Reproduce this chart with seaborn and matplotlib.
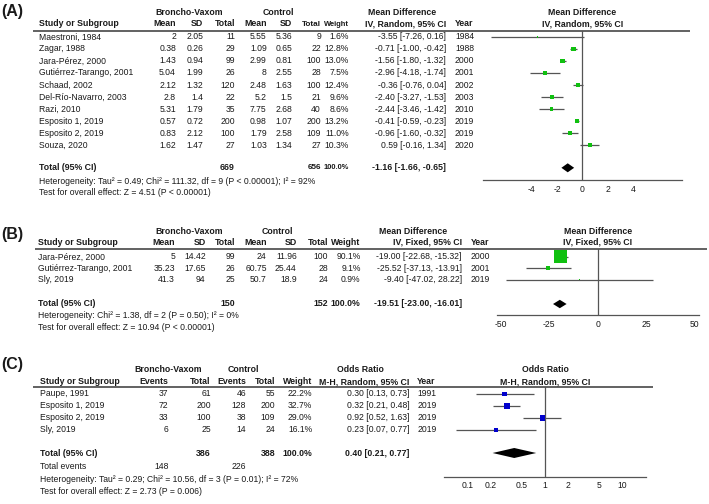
"""
plot.py

RevMan-style forest plots, Broncho-Vaxom vs control.
  (A) mean difference, IV random effects
  (B) mean difference, IV fixed effect
  (C) odds ratio, M-H random effects
Writes out.png (709x504 px).
"""

import matplotlib.pyplot as plt
import numpy as np
import pandas as pd
import seaborn as sns
from matplotlib.ticker import NullLocator
from matplotlib.transforms import blended_transform_factory

W, H = 709, 504
FS = 6.2      # regular table text
FSB = 6.3     # bold table text
INK = "#1a1a1a"
GREY = "#555555"

# ---------------- (A) mean difference, random effects ----------------
studies_a = ["Maestroni, 1984", "Zagar, 1988", "Jara-Pérez, 2000", "Gutiérrez-Tarango, 2001",
             "Schaad, 2002", "Del-Río-Navarro, 2003", "Razi, 2010", "Esposito 1, 2019",
             "Esposito 2, 2019", "Souza, 2020"]
bv_mean_a = [2, 0.38, 1.43, 5.04, 2.12, 2.8, 5.31, 0.57, 0.83, 1.62]
bv_sd_a = [2.05, 0.26, 0.94, 1.99, 1.32, 1.4, 1.79, 0.72, 2.12, 1.47]
bv_n_a = [11, 29, 99, 26, 120, 22, 35, 200, 100, 27]
ctl_mean_a = [5.55, 1.09, 2.99, 8, 2.48, 5.2, 7.75, 0.98, 1.79, 1.03]
ctl_sd_a = [5.36, 0.65, 0.81, 2.55, 1.63, 1.5, 2.68, 1.07, 2.58, 1.34]
ctl_n_a = [9, 22, 100, 28, 100, 21, 40, 200, 109, 27]
weight_a = [1.6, 12.8, 13.0, 7.5, 12.4, 9.6, 8.6, 13.2, 11.0, 10.3]
md_a = [-3.55, -0.71, -1.56, -2.96, -0.36, -2.40, -2.44, -0.41, -0.96, 0.59]
lo_a = [-7.26, -1.00, -1.80, -4.18, -0.76, -3.27, -3.46, -0.59, -1.60, -0.16]
hi_a = [0.16, -0.42, -1.32, -1.74, 0.04, -1.53, -1.42, -0.23, -0.32, 1.34]
year_a = [1984, 1988, 2000, 2001, 2002, 2003, 2010, 2019, 2019, 2020]
n_total_a = [669, 656]
pooled_a = [-1.16, -1.66, -0.65]
notes_a = ["Heterogeneity: Tau² = 0.49; Chi² = 111.32, df = 9 (P < 0.00001); I² = 92%",
           "Test for overall effect: Z = 4.51 (P < 0.00001)"]
ticks_a = [-4, -2, 0, 2, 4]

# ---------------- (B) mean difference, fixed effect ----------------
studies_b = ["Jara-Pérez, 2000", "Gutiérrez-Tarango, 2001", "Sly, 2019"]
bv_mean_b = [5, 35.23, 41.3]
bv_sd_b = [14.42, 17.65, 94]
bv_n_b = [99, 26, 25]
ctl_mean_b = [24, 60.75, 50.7]
ctl_sd_b = [11.96, 25.44, 18.9]
ctl_n_b = [100, 28, 24]
weight_b = [90.1, 9.1, 0.9]
md_b = [-19.00, -25.52, -9.40]
lo_b = [-22.68, -37.13, -47.02]
hi_b = [-15.32, -13.91, 28.22]
year_b = [2000, 2001, 2019]
n_total_b = [150, 152]
pooled_b = [-19.51, -23.00, -16.01]
notes_b = ["Heterogeneity: Chi² = 1.38, df = 2 (P = 0.50); I² = 0%",
           "Test for overall effect: Z = 10.94 (P < 0.00001)"]
ticks_b = [-50, -25, 0, 25, 50]

# ---------------- (C) odds ratio, random effects ----------------
studies_c = ["Paupe, 1991", "Esposito 1, 2019", "Esposito 2, 2019", "Sly, 2019"]
bv_events_c = [37, 72, 33, 6]
bv_n_c = [61, 200, 100, 25]
ctl_events_c = [46, 128, 38, 14]
ctl_n_c = [55, 200, 109, 24]
weight_c = [22.2, 32.7, 29.0, 16.1]
or_c = [0.30, 0.32, 0.92, 0.23]
lo_c = [0.13, 0.21, 0.52, 0.07]
hi_c = [0.73, 0.48, 1.63, 0.77]
year_c = [1991, 2019, 2019, 2019]
n_total_c = [386, 388]
events_total_c = [148, 226]
pooled_c = [0.40, 0.21, 0.77]
notes_c = ["Heterogeneity: Tau² = 0.29; Chi² = 10.56, df = 3 (P = 0.01); I² = 72%",
           "Test for overall effect: Z = 2.73 (P = 0.006)"]
ticks_c = [0.1, 0.2, 0.5, 1, 2, 5, 10]


def txt(ax, x, y, s, ha="right", bold=False, size=None, **kw):
    ax.text(x, y, s, ha=ha, va="center", color=INK,
            fontsize=size or (FSB if bold else FS),
            fontweight="bold" if bold else "normal", **kw)


def fmt_ci(est, lo, hi):
    return f"{est:.2f} [{lo:.2f}, {hi:.2f}]"


def draw_table(bg, lay, studies, cols, totals, ci_strings, years, pooled, notes, extra=None):
    """cols: list of (x_right, header, values, bold size); totals: {x_right: (text, size)}."""
    rows = lay["row0"] + lay["step"] * np.arange(len(studies))
    txt(bg, 1.5, lay["tag_y"], lay["tag"], ha="left", bold=True, size=11.5)
    for label, cx in lay["groups"]:
        txt(bg, cx, lay["grp_y"], label, ha="center", bold=True)
    txt(bg, lay["study_x"], lay["hdr_y"], "Study or Subgroup", ha="left", bold=True)
    bg.plot(lay["line_x"], [lay["line_y"]] * 2, color=GREY, lw=1.3, solid_capstyle="butt")

    for x, head, vals, hsize in cols:
        txt(bg, x, lay["hdr_y"], head, bold=True, size=hsize)
        for y, v in zip(rows, vals):
            txt(bg, x, y, v)

    # effect-size column + year
    ci_x, year_x = lay["ci_x"], lay["year_x"]
    txt(bg, lay["ci_head_x"], lay["grp_y"], lay["ci_head"], ha="center", bold=True)
    txt(bg, ci_x, lay["hdr_y"], lay["ci_sub"], bold=True)
    txt(bg, year_x, lay["hdr_y"], "Year", ha="left", bold=True)
    for y, s, yr, name in zip(rows, ci_strings, years, studies):
        txt(bg, lay["study_x"], y, name, ha="left")
        txt(bg, ci_x, y, s)
        txt(bg, year_x, y, str(yr), ha="left")

    ty = lay["total_y"]
    txt(bg, lay["study_x"], ty, "Total (95% CI)", ha="left", bold=True)
    for x, (s, size) in totals.items():
        txt(bg, x, ty, s, bold=True, size=size)
    txt(bg, ci_x, ty, fmt_ci(*pooled), bold=True)

    if extra:
        label, y, vals = extra
        txt(bg, lay["study_x"], y, label, ha="left")
        for x, s in vals.items():
            txt(bg, x, y, s)

    for y, s in zip(lay["notes_y"], notes):
        txt(bg, lay["study_x"], y, s, ha="left")
    return rows


def forest(fig, bg, lay, rows, est, lo, hi, weights, pooled, ticks, color, smax, log=False):
    x0, x1 = lay["plot_x"]
    y0, y1 = lay["line_y"], lay["axis_y"]
    ax = fig.add_axes([x0 / W, 1 - y1 / H, (x1 - x0) / W, (y1 - y0) / H])
    ax.patch.set_alpha(0)
    if log:
        ax.set_xscale("log")
    ax.set_xlim(lay["xlim"])
    ax.set_ylim(y1, y0)

    df = pd.DataFrame({"est": est, "lo": lo, "hi": hi, "w": weights, "y": rows})
    null = 1 if log else 0
    ax.axvline(null, color=GREY, lw=0.9, zorder=1)
    ax.hlines(df["y"], df["lo"], df["hi"], color=GREY, lw=0.9, zorder=2)
    sns.scatterplot(data=df, x="est", y="y", size="w", sizes=(0, smax),
                    size_norm=(0, max(weights)), marker="s", color=color,
                    linewidth=0, legend=False, ax=ax, zorder=3)

    p, plo, phi = pooled
    ty, dh = lay["total_y"], lay["diamond_h"]
    ax.fill([plo, p, phi, p], [ty, ty - dh, ty, ty + dh], color="black", lw=0, zorder=3)

    for side in ("left", "right", "top"):
        ax.spines[side].set_visible(False)
    ax.spines["bottom"].set_color(GREY)
    ax.spines["bottom"].set_linewidth(0.9)
    ax.set_yticks([])
    ax.set_xlabel("")
    ax.set_ylabel("")
    ax.set_xticks(ticks)
    ax.set_xticklabels([f"{t:g}" for t in ticks])
    ax.xaxis.set_minor_locator(NullLocator())
    ax.tick_params(axis="x", direction="inout", length=4.5, width=0.8, color=GREY,
                   pad=1.2, labelsize=FS, labelcolor=INK)

    # plot header centred on the line of no effect
    tr = blended_transform_factory(ax.transData, bg.transData)
    txt(ax, null, lay["grp_y"], lay["ci_head"], ha="center", bold=True, transform=tr)
    txt(ax, null, lay["hdr_y"], lay["ci_sub"], ha="center", bold=True, transform=tr)


def num(vals):
    return [f"{v:g}" for v in vals]


def pct(vals):
    return [f"{v:.1f}%" for v in vals]


def main() -> None:
    sns.set_style("white")
    plt.rcParams["font.family"] = ["Liberation Sans", "DejaVu Sans"]
    plt.rcParams["axes.unicode_minus"] = False

    fig = plt.figure(figsize=(W / 100, H / 100), dpi=100)
    bg = fig.add_axes([0, 0, 1, 1])
    bg.set_xlim(0, W)
    bg.set_ylim(H, 0)
    bg.axis("off")

    green, blue = "#10c010", "#0000cc"
    narrow = 5.4   # A's weight column sits tight against its Total column

    # ---- (A)
    lay_a = dict(tag="(A)", tag_y=11.5, grp_y=12.5, hdr_y=24, line_y=31, line_x=(33, 690),
                 row0=36.9, step=12.03, total_y=167.8, notes_y=[181, 192.5], study_x=39,
                 groups=[("Broncho-Vaxom", 189), ("Control", 278)],
                 ci_head="Mean Difference", ci_sub="IV, Random, 95% CI", ci_head_x=402.5,
                 ci_x=446, year_x=455, axis_y=180, plot_x=(482.7, 682), xlim=(-7.9, 7.9),
                 diamond_h=4.5)
    cols_a = [(176, "Mean", num(bv_mean_a), FSB), (203.3, "SD", num(bv_sd_a), FSB),
              (235, "Total", num(bv_n_a), FSB), (266.7, "Mean", num(ctl_mean_a), FSB),
              (292.3, "SD", num(ctl_sd_a), FSB), (321, "Total", num(ctl_n_a), 5.9),
              (349, "Weight", pct(weight_a), narrow)]
    rows_a = draw_table(bg, lay_a, studies_a, cols_a,
                        {235: (str(n_total_a[0]), FSB), 321: (str(n_total_a[1]), 5.9),
                         349: ("100.0%", narrow)},
                        [fmt_ci(*t) for t in zip(md_a, lo_a, hi_a)], year_a, pooled_a, notes_a)
    forest(fig, bg, lay_a, rows_a, md_a, lo_a, hi_a, weight_a, pooled_a, ticks_a, green, 10)

    # ---- (B)
    lay_b = dict(tag="(B)", tag_y=235, grp_y=231.7, hdr_y=242.5, line_y=249, line_x=(35, 706.7),
                 row0=256.9, step=11.4, total_y=304, notes_y=[316, 328], study_x=37.5,
                 groups=[("Broncho-Vaxom", 189), ("Control", 277.5)],
                 ci_head="Mean Difference", ci_sub="IV, Fixed, 95% CI", ci_head_x=412.8,
                 ci_x=461.7, year_x=471, axis_y=315, plot_x=(496.7, 698.7), xlim=(-52, 52),
                 diamond_h=4.2)
    cols_b = [(175, "Mean", num(bv_mean_b), FSB), (205.7, "SD", num(bv_sd_b), FSB),
              (235, "Total", num(bv_n_b), FSB), (266.7, "Mean", num(ctl_mean_b), FSB),
              (296.7, "SD", num(ctl_sd_b), FSB), (328, "Total", num(ctl_n_b), FSB),
              (360.5, "Weight", pct(weight_b), FSB)]
    rows_b = draw_table(bg, lay_b, studies_b, cols_b,
                        {235: (str(n_total_b[0]), FSB), 328: (str(n_total_b[1]), FSB),
                         360.5: ("100.0%", FSB)},
                        [fmt_ci(*t) for t in zip(md_b, lo_b, hi_b)], year_b, pooled_b, notes_b)
    forest(fig, bg, lay_b, rows_b, md_b, lo_b, hi_b, weight_b, pooled_b, ticks_b, green, 88)

    # ---- (C)
    lay_c = dict(tag="(C)", tag_y=365, grp_y=369.3, hdr_y=381.5, line_y=387.3, line_x=(33, 652.7),
                 row0=394, step=12, total_y=453, notes_y=[479, 491], study_x=40.5,
                 groups=[("Broncho-Vaxom", 168.3), ("Control", 243)],
                 ci_head="Odds Ratio", ci_sub="M-H, Random, 95% CI", ci_head_x=360.3,
                 ci_x=409.3, year_x=417.3, axis_y=476.7, plot_x=(444.4, 645.6), xlim=(0.05, 20),
                 diamond_h=5)
    cols_c = [(168.3, "Events", num(bv_events_c), FSB), (210.7, "Total", num(bv_n_c), FSB),
              (246, "Events", num(ctl_events_c), FSB), (275, "Total", num(ctl_n_c), FSB),
              (312.3, "Weight", pct(weight_c), FSB)]
    rows_c = draw_table(bg, lay_c, studies_c, cols_c,
                        {210.7: (str(n_total_c[0]), FSB), 275: (str(n_total_c[1]), FSB),
                         312.3: ("100.0%", FSB)},
                        [fmt_ci(*t) for t in zip(or_c, lo_c, hi_c)], year_c, pooled_c, notes_c,
                        extra=("Total events", 466.7,
                               {168.3: str(events_total_c[0]), 246: str(events_total_c[1])}))
    forest(fig, bg, lay_c, rows_c, or_c, lo_c, hi_c, weight_c, pooled_c, ticks_c, blue, 17, log=True)

    fig.savefig("out.png", dpi=100, facecolor="white")
    plt.close(fig)


if __name__ == "__main__":
    main()
